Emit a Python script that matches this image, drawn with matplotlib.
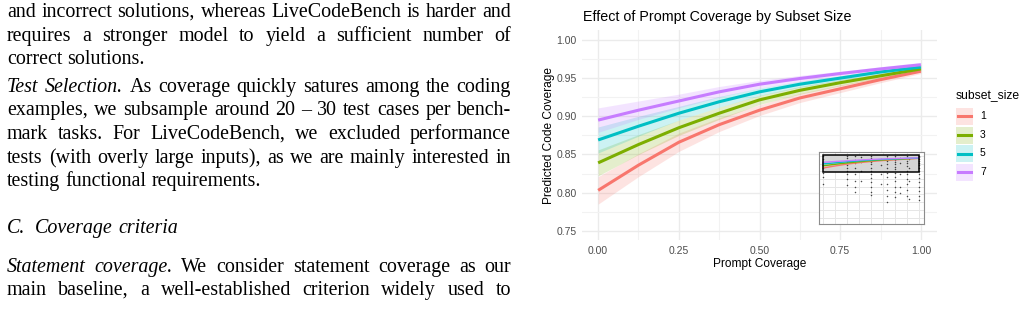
import numpy as np
import matplotlib.pyplot as plt
from matplotlib.patches import Rectangle
from matplotlib.lines import Line2D
from matplotlib.transforms import IdentityTransform

W, H = 1024, 310

# ---- data ----
coverage = [0, 0.125, 0.25, 0.375, 0.5, 0.625, 0.75, 0.875, 1.0]
subset_sizes = ["1", "3", "5", "7"]
colors = ["#F8766D", "#7CAE00", "#00BFC4", "#C77CFF"]

fit_1 = [0.803, 0.836, 0.866, 0.889, 0.908, 0.924, 0.936, 0.948, 0.959]
lo_1 = [0.785, 0.821, 0.854, 0.880, 0.901, 0.918, 0.931, 0.944, 0.956]
hi_1 = [0.821, 0.851, 0.878, 0.898, 0.915, 0.930, 0.941, 0.952, 0.962]

fit_3 = [0.839, 0.863, 0.885, 0.904, 0.9215, 0.934, 0.944, 0.953, 0.962]
lo_3 = [0.822, 0.850, 0.875, 0.896, 0.9155, 0.929, 0.940, 0.950, 0.959]
hi_3 = [0.856, 0.876, 0.895, 0.912, 0.9275, 0.939, 0.948, 0.956, 0.965]

fit_5 = [0.869, 0.887, 0.904, 0.919, 0.932, 0.942, 0.950, 0.958, 0.9645]
lo_5 = [0.852, 0.874, 0.895, 0.912, 0.927, 0.938, 0.947, 0.955, 0.9615]
hi_5 = [0.886, 0.900, 0.913, 0.926, 0.937, 0.946, 0.953, 0.961, 0.9675]

fit_7 = [0.895, 0.908, 0.920, 0.932, 0.942, 0.9495, 0.956, 0.962, 0.9675]
lo_7 = [0.879, 0.896, 0.911, 0.925, 0.937, 0.9455, 0.953, 0.959, 0.9645]
hi_7 = [0.911, 0.920, 0.929, 0.939, 0.947, 0.9535, 0.959, 0.965, 0.9705]

fits = [fit_1, fit_3, fit_5, fit_7]
los = [lo_1, lo_3, lo_5, lo_7]
his = [hi_1, hi_3, hi_5, hi_7]

# raw observations shown in the small overview inset
obs_x = [0.0, 0.25, 0.33, 0.4, 0.5, 0.6, 0.67, 0.75, 0.8, 0.875, 0.9, 1.0]
obs_y = [
    [1.0, 0.95, 0.9, 0.85, 0.8, 0.72, 0.65, 0.55],
    [1.0, 0.96, 0.9, 0.85, 0.8, 0.75, 0.7, 0.62, 0.52],
    [1.0, 0.93, 0.88, 0.8, 0.7, 0.6, 0.5, 0.42],
    [0.98, 0.9, 0.75, 0.6],
    [1.0, 0.97, 0.93, 0.9, 0.86, 0.8, 0.75, 0.7, 0.64, 0.58, 0.5, 0.42, 0.37],
    [0.95, 0.85, 0.7, 0.55],
    [1.0, 0.96, 0.92, 0.86, 0.8, 0.72, 0.65, 0.55, 0.45, 0.35, 0.26],
    [1.0, 0.97, 0.94, 0.9, 0.86, 0.82, 0.78, 0.72, 0.66, 0.6, 0.5, 0.42, 0.33],
    [0.97, 0.88, 0.7, 0.5, 0.4],
    [1.0, 0.96, 0.92, 0.88, 0.83, 0.76, 0.7, 0.62, 0.55, 0.45, 0.35],
    [0.95, 0.8, 0.6, 0.3],
    [1.0, 0.98, 0.95, 0.92, 0.89, 0.85, 0.8, 0.75, 0.7, 0.64, 0.58, 0.5, 0.43, 0.35, 0.28],
]

x_ticks = [0, 0.25, 0.5, 0.75, 1.0]
y_ticks = [0.75, 0.80, 0.85, 0.90, 0.95, 1.00]

# left column text, words starting with "_" are italic
text_lines = [
    ("and incorrect solutions, whereas LiveCodeBench is harder and", True),
    ("requires a stronger model to yield a sufficient number of", True),
    ("correct solutions.", False),
    ("_Test _Selection. As coverage quickly satures among the coding", True),
    ("examples, we subsample around 20 – 30 test cases per bench-", True),
    ("mark tasks. For LiveCodeBench, we excluded performance", True),
    ("tests (with overly large inputs), as we are mainly interested in", True),
    ("testing functional requirements.", False),
    ("_C.  _Coverage _criteria", False),
    ("_Statement _coverage. We consider statement coverage as our", True),
    ("main baseline, a well-established criterion widely used to", True),
]
text_base = [17, 41, 64, 92, 115, 139, 163, 186, 233, 272, 295]


def fx(px):
    return px / W


def fy(py):
    return 1 - py / H


fig = plt.figure(figsize=(W / 100, H / 100), dpi=100)
fig.patch.set_facecolor("white")

# ---- left column text (justified) ----
renderer = fig.canvas.get_renderer()
x0, x1 = 7, 511
for (line, justify), base in zip(text_lines, text_base):
    words = line.split(" ")
    arts = []
    extra = []
    for w in words:
        if w == "":
            extra[-1] += 5
            continue
        ital = w.startswith("_")
        t = fig.text(0, 0, w.lstrip("_"), fontsize=14.4, family="Liberation Serif",
                     style="italic" if ital else "normal", va="baseline",
                     transform=IdentityTransform())
        arts.append(t)
        extra.append(0)
    widths = [a.get_window_extent(renderer).width for a in arts]
    if justify and len(arts) > 1:
        gap = (x1 - x0 - sum(widths)) / (len(arts) - 1)
    else:
        gap = 5.0
    xp = x0
    for a, wd, ex in zip(arts, widths, extra):
        a.set_position((xp, H - base))
        xp += wd + gap + ex

# ---- main chart ----
ax = fig.add_axes([fx(582), fy(240), (937 - 582) / W, (240 - 30) / H])
ax.set_facecolor("white")
for s in ax.spines.values():
    s.set_visible(False)
ax.set_xlim(-0.05, 1.05)
ax.set_ylim(0.738, 1.013)
ax.set_xticks(x_ticks)
ax.set_xticklabels(["%.2f" % v for v in x_ticks])
ax.set_yticks(y_ticks)
ax.set_yticklabels(["%.2f" % v for v in y_ticks])
ax.set_xticks([0.125, 0.375, 0.625, 0.875], minor=True)
ax.set_yticks([0.775, 0.825, 0.875, 0.925, 0.975], minor=True)
ax.grid(True, which="major", color="#EBEBEB", lw=1.0)
ax.grid(True, which="minor", color="#F2F2F2", lw=0.8)
ax.set_axisbelow(True)
ax.tick_params(which="both", length=0, labelsize=7.5, labelcolor="#4D4D4D")
ax.tick_params(axis="x", pad=4)
ax.tick_params(axis="y", pad=4)
for lbl in ax.get_xticklabels() + ax.get_yticklabels():
    lbl.set_family("Liberation Sans")

for fit, lo, hi, c in zip(fits, los, his, colors):
    ax.fill_between(coverage, lo, hi, color=c, alpha=0.2, lw=0)
for fit, c in zip(fits, colors):
    ax.plot(coverage, fit, color=c, lw=2.2, solid_capstyle="butt")

ax.set_xlabel("Prompt Coverage", fontsize=8.6, family="Liberation Sans", va="center")
ax.xaxis.set_label_coords(0.501, -0.112)
ax.set_ylabel("Predicted Code Coverage", fontsize=8.6, family="Liberation Sans", va="center")
ax.yaxis.set_label_coords(-0.093, 0.5)

fig.text(fx(583), fy(17), "Effect of Prompt Coverage by Subset Size", fontsize=10.3,
         family="Liberation Sans", va="center", ha="left")

# ---- overview inset ----
ins = fig.add_axes([fx(819), fy(224), (924 - 819) / W, (224 - 152) / H])
ins.set_facecolor("white")
for s in ins.spines.values():
    s.set_color("#8C8C8C")
    s.set_linewidth(0.8)
ins.set_xlim(-0.042, 1.052)
ins.set_ylim(-0.103, 1.062)
ins.set_xticks([0, 0.25, 0.5, 0.75, 1.0])
ins.set_xticks([0.125, 0.375, 0.625, 0.875], minor=True)
ins.set_yticks([0.0, 0.25, 0.5, 0.75, 1.0])
ins.set_yticks([0.125, 0.375, 0.625, 0.875], minor=True)
ins.tick_params(which="both", length=0, labelbottom=False, labelleft=False)
ins.grid(True, which="both", color="#E6E6E6", lw=0.7)
ins.set_axisbelow(True)
ins.add_patch(Rectangle((0, 0.738), 1.0, 0.275, facecolor="#D6D6D6",
                        edgecolor="none", zorder=1))
px_, py_ = [], []
for xv, ys in zip(obs_x, obs_y):
    for yv in ys:
        px_.append(xv)
        py_.append(yv)
ins.scatter(px_, py_, s=1.2, color="black", alpha=0.7, lw=0, zorder=2)
for fit, c in zip(fits, colors):
    ins.plot(coverage, fit, color=c, lw=1.0, zorder=3)
ins.add_patch(Rectangle((0, 0.738), 1.0, 0.275, facecolor="none",
                        edgecolor="black", lw=1.1, zorder=4))

# ---- legend ----
fig.text(fx(956), fy(95), "subset_size", fontsize=8.7, family="Liberation Sans",
         va="center", ha="left")
key_tops = [108, 127, 145, 164]
for lab, c, top in zip(subset_sizes, colors, key_tops):
    fig.add_artist(Rectangle((fx(956), fy(top + 17)), 17 / W, 17 / H,
                             transform=fig.transFigure, facecolor=c, alpha=0.2, lw=0))
    fig.add_artist(Line2D([fx(958), fx(971)], [fy(top + 8.5)] * 2,
                          transform=fig.transFigure, color=c, lw=2.2))
    fig.text(fx(980), fy(top + 8.5), lab, fontsize=7.5, family="Liberation Sans",
             va="center", ha="left")

fig.savefig("out.png", dpi=100)
